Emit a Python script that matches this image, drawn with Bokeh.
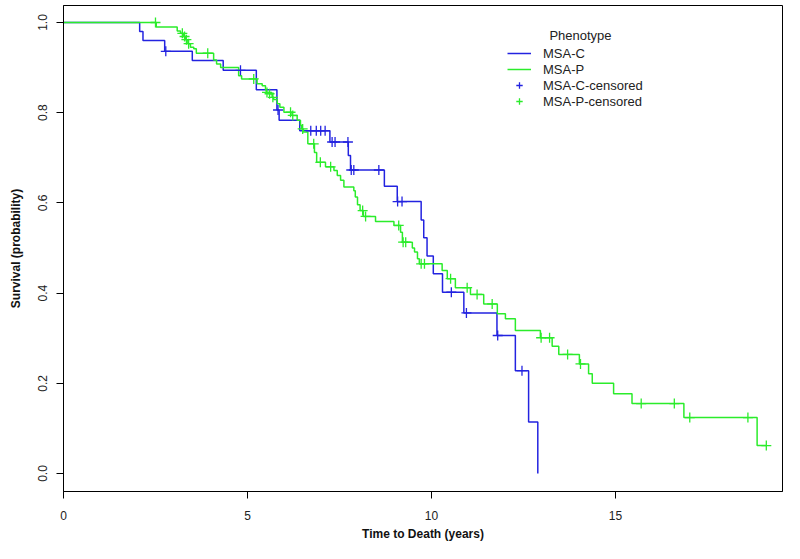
from bisect import bisect_right
from bokeh.plotting import figure
from bokeh.models import Range1d, FixedTicker, NumeralTickFormatter, Legend, LegendItem, Label
from bokeh.embed import file_html
from bokeh.resources import INLINE

# MSA-C (blue) event times and survival after each event
c_times = [2.07, 2.16, 2.75, 3.50, 4.34, 5.24, 5.80, 5.86, 6.42, 7.24, 7.74, 7.80,
           8.72, 9.07, 9.72, 9.79, 9.88, 10.05, 10.30, 10.88, 11.78, 12.28, 12.64, 12.89]
c_surv = [0.980, 0.960, 0.936, 0.916, 0.894, 0.851, 0.806, 0.783, 0.760, 0.735, 0.705, 0.673,
          0.637, 0.603, 0.562, 0.523, 0.482, 0.443, 0.402, 0.356, 0.306, 0.228, 0.114, 0.0]
c_cens = [2.78, 4.81, 5.83, 6.72, 6.87, 6.99, 7.11, 7.30, 7.38, 7.73, 7.82, 7.89, 8.57,
          9.08, 9.20, 10.54, 10.95, 11.80, 12.46]

# MSA-P (green)
p_times = [2.52, 3.09, 3.18, 3.26, 3.32, 3.38, 3.45, 3.54, 3.61, 4.08, 4.16, 4.27, 4.76, 4.84,
           5.26, 5.40, 5.49, 5.51, 5.58, 5.67, 5.71, 5.81, 5.88, 5.99, 6.21, 6.35, 6.44, 6.47,
           6.52, 6.64, 6.82, 6.88, 7.12, 7.35, 7.44, 7.53, 7.62, 7.89, 7.93, 7.99, 8.06, 8.15,
           8.48, 8.98, 9.16, 9.21, 9.48, 9.54, 9.62, 9.67, 10.29, 10.43, 10.65, 11.06, 11.42,
           11.79, 12.01, 12.28, 12.96, 13.28, 13.46, 14.02, 14.27, 14.37, 14.95, 15.45, 16.86, 18.85]
p_surv = [0.990, 0.981, 0.976, 0.969, 0.962, 0.953, 0.945, 0.942, 0.932, 0.917, 0.908, 0.900,
          0.882, 0.875, 0.864, 0.860, 0.851, 0.845, 0.842, 0.834, 0.829, 0.820, 0.812, 0.801,
          0.794, 0.783, 0.772, 0.764, 0.757, 0.731, 0.712, 0.690, 0.680, 0.672, 0.661, 0.650,
          0.635, 0.627, 0.613, 0.596, 0.583, 0.570, 0.559, 0.550, 0.535, 0.513, 0.500, 0.491,
          0.476, 0.465, 0.450, 0.432, 0.412, 0.397, 0.376, 0.354, 0.343, 0.317, 0.301, 0.282,
          0.264, 0.243, 0.221, 0.200, 0.177, 0.155, 0.124, 0.062]
p_cens = [2.50, 3.23, 3.29, 3.34, 3.40, 3.92, 5.17, 5.53, 5.60, 5.69, 6.17, 6.23, 6.50, 6.80,
          6.98, 7.26, 8.13, 8.21, 9.11, 9.23, 9.30, 9.72, 9.81, 10.52, 10.97, 11.24, 11.65,
          12.98, 13.21, 13.70, 14.05, 15.70, 16.60, 17.02, 18.60, 19.10]

x_ticks = [0, 5, 10, 15]
y_ticks = [0.0, 0.2, 0.4, 0.6, 0.8, 1.0]

BLUE = "#2323e0"
GREEN = "#2bec2b"
FONT = "Liberation Sans"


def surv_at(times, surv, t):
    i = bisect_right(times, t)
    return 1.0 if i == 0 else surv[i - 1]


p = figure(width=784, height=543, output_backend="svg", toolbar_location=None,
           x_range=Range1d(0, 19.54), y_range=Range1d(-0.0399, 1.0377),
           min_border_left=63, min_border_right=2, min_border_top=5, min_border_bottom=52)
p.grid.visible = False
p.outline_line_color = "black"
p.outline_line_width = 1
p.background_fill_color = "white"
p.border_fill_color = "white"

c_line = p.step(x=[0] + c_times, y=[1.0] + c_surv, mode="after", line_color=BLUE, line_width=1.5)
p_line = p.step(x=[0] + p_times + [p_cens[-1]], y=[1.0] + p_surv + [p_surv[-1]], mode="after",
                line_color=GREEN, line_width=1.5)

c_cy = [surv_at(c_times, c_surv, t) for t in c_cens]
p_cy = [surv_at(p_times, p_surv, t) for t in p_cens]
c_pts = p.scatter(x=c_cens, y=c_cy, marker="cross", size=10, line_color=BLUE, line_width=1.3)
p_pts = p.scatter(x=p_cens, y=p_cy, marker="cross", size=10, line_color=GREEN, line_width=1.3)

for ax in (p.xaxis[0], p.yaxis[0]):
    ax.axis_line_color = "black"
    ax.major_tick_line_color = "black"
    ax.minor_tick_line_color = None
    ax.major_tick_out = 7
    ax.major_tick_in = 0
    ax.major_label_text_font = FONT
    ax.major_label_text_font_size = "12px"
    ax.major_label_text_color = "#222222"
    ax.axis_label_text_font = FONT
    ax.axis_label_text_font_size = "12px"
    ax.axis_label_text_font_style = "bold"
    ax.axis_label_text_color = "#111111"

p.xaxis.ticker = FixedTicker(ticks=x_ticks)
p.yaxis.ticker = FixedTicker(ticks=y_ticks)
p.yaxis.formatter = NumeralTickFormatter(format="0.0")
p.yaxis.major_label_orientation = "vertical"
p.xaxis.major_label_standoff = 12
p.yaxis.major_label_standoff = 9
p.xaxis.axis_label = "Time to Death (years)"
p.yaxis.axis_label = "Survival (probability)"
p.xaxis.axis_label_standoff = 4
p.yaxis.axis_label_standoff = 13

legend = Legend(items=[
    LegendItem(label="MSA-C", renderers=[c_line]),
    LegendItem(label="MSA-P", renderers=[p_line]),
    LegendItem(label="MSA-C-censored", renderers=[c_pts]),
    LegendItem(label="MSA-P-censored", renderers=[p_pts]),
], location=(444, 382), orientation="vertical")
legend.border_line_color = None
legend.background_fill_alpha = 0
legend.padding = 0
legend.spacing = 0
legend.margin = 0
legend.glyph_width = 24
legend.glyph_height = 16
legend.label_height = 16
legend.label_standoff = 12
legend.label_text_font = FONT
legend.label_text_font_size = "13px"
legend.label_text_color = "#222222"
p.add_layout(legend, "center")

title = Label(x=14.05, y=0.971, text="Phenotype", text_font=FONT, text_font_size="13px",
              text_align="center", text_baseline="middle", text_color="#222222")
p.add_layout(title)

open("out.html", "w").write(file_html(p, INLINE))
